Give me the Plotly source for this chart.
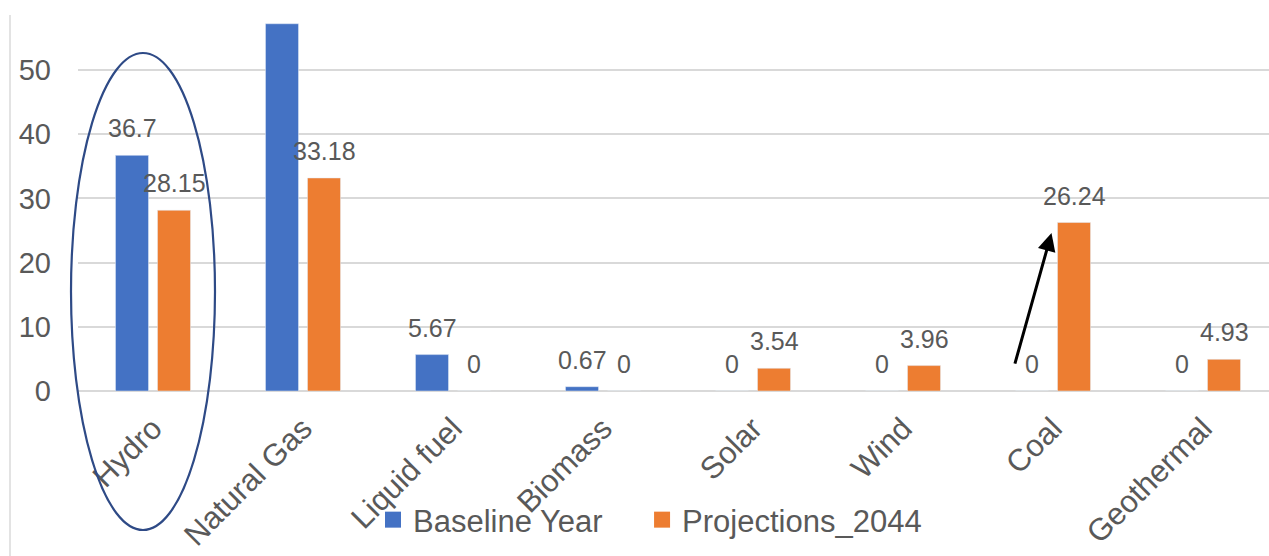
import plotly.graph_objects as go

categories = ["Hydro", "Natural Gas", "Liquid fuel", "Biomass", "Solar", "Wind", "Coal", "Geothermal"]
baseline_year = [36.7, 57.2, 5.67, 0.67, 0, 0, 0, 0]
projections_2044 = [28.15, 33.18, 0, 0, 3.54, 3.96, 26.24, 4.93]
label_baseline = ["36.7", "", "5.67", "0.67", "0", "0", "0", "0"]
label_proj = ["28.15", "33.18", "0", "0", "3.54", "3.96", "26.24", "4.93"]

BLUE = "#4472C4"
ORANGE = "#ED7D31"
TEXT = "#595959"
GRID = "#D9D9D9"
FONT = "Liberation Sans, Arial, sans-serif"

W, H = 1269, 556
ML, MB = 78, 165
Y_TOP = 60.9

fig = go.Figure()
fig.add_trace(go.Bar(x=categories, y=baseline_year, name="Baseline Year",
                     marker_color=BLUE, showlegend=False))
fig.add_trace(go.Bar(x=categories, y=projections_2044, name="Projections_2044",
                     marker_color=ORANGE, showlegend=False))
# legend entries with larger square swatches (non-breaking spaces widen the gap)
fig.add_trace(go.Scatter(x=[None], y=[None], mode="markers", name="Baseline Year" + "\u00a0" * 4,
                         marker=dict(symbol="square", size=16, color=BLUE)))
fig.add_trace(go.Scatter(x=[None], y=[None], mode="markers", name="Projections_2044",
                         marker=dict(symbol="square", size=16, color=ORANGE)))

annotations = []
for i, cat in enumerate(categories):
    for vals, labs, shift in ((baseline_year, label_baseline, -21), (projections_2044, label_proj, 21)):
        if labs[i] == "":
            continue
        annotations.append(dict(x=i, y=vals[i], xref="x", yref="y", text=labs[i],
                                showarrow=False, xshift=shift, yshift=11,
                                yanchor="bottom", xanchor="center",
                                font=dict(family=FONT, size=25, color=TEXT)))

# arrow pointing to Coal projection
annotations.append(dict(x=5.99, y=24.6, xref="x", yref="y", ax=-37, ay=132,
                        axref="pixel", ayref="pixel", showarrow=True, text="",
                        arrowhead=2, arrowsize=1.2, arrowwidth=3, arrowcolor="black"))

plot_h = H - MB
plot_w = W - ML
def px_x(p):
    return (p - ML) / plot_w
def px_y(p):
    return (plot_h - p) / plot_h

shapes = [
    dict(type="circle", xref="paper", yref="paper",
         x0=px_x(71), x1=px_x(215), y0=px_y(530), y1=px_y(53),
         line=dict(color="#2E4A86", width=2.2), layer="above"),
    dict(type="line", xref="paper", yref="paper",
         x0=px_x(10), x1=px_x(10), y0=px_y(15), y1=px_y(H),
         line=dict(color="#E3E3E3", width=2)),
]

fig.update_layout(
    width=W, height=H,
    margin=dict(l=ML, r=0, t=0, b=MB, pad=0),
    paper_bgcolor="white", plot_bgcolor="white",
    barmode="group", bargap=0.44, bargroupgap=0.214,
    font=dict(family=FONT, color=TEXT),
    showlegend=True,
    legend=dict(orientation="h", x=px_x(373), xanchor="left", y=px_y(520), yanchor="middle",
                font=dict(family=FONT, size=31, color=TEXT), bgcolor="rgba(0,0,0,0)",
                itemclick=False),
    annotations=annotations,
    shapes=shapes,
)
fig.update_xaxes(range=[-0.5, 7.44], showgrid=False, showline=False, zeroline=False,
                 tickangle=-45, tickfont=dict(family=FONT, size=31, color=TEXT),
                 ticks="", ticklabelstandoff=12)
fig.update_yaxes(range=[0, Y_TOP], tickvals=[0, 10, 20, 30, 40, 50],
                 showgrid=True, gridcolor=GRID, gridwidth=1.5,
                 zeroline=True, zerolinecolor=GRID, zerolinewidth=1.5,
                 showline=False, ticks="", ticklabelstandoff=26,
                 tickfont=dict(family=FONT, size=29, color=TEXT))

fig.write_html("out.html")
